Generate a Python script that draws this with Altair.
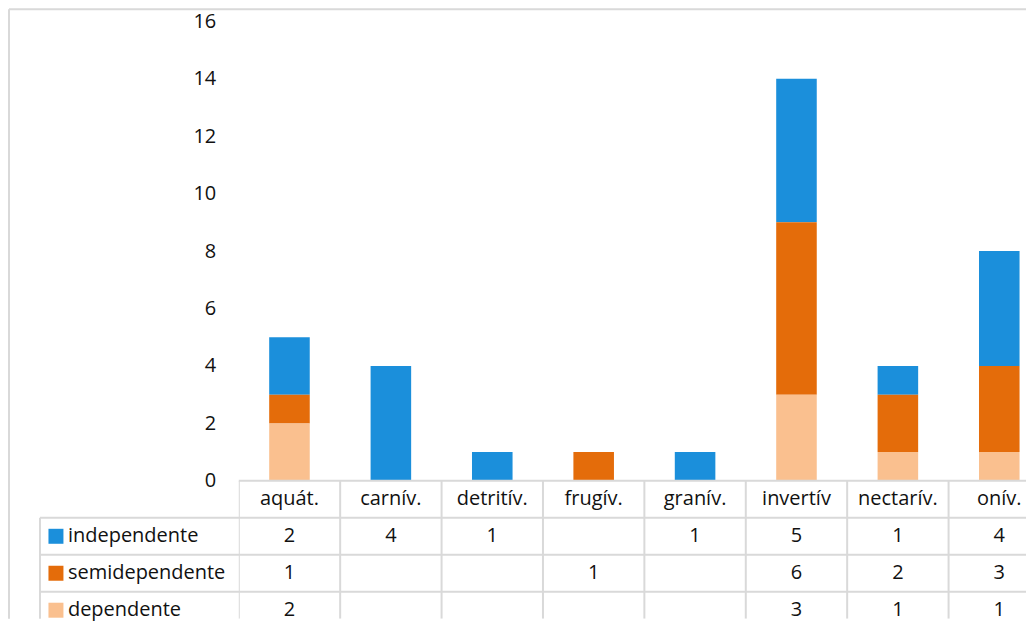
import altair as alt
import pandas as pd

categories = ["aquát.", "carnív.", "detritív.", "frugív.", "granív.", "invertív", "nectarív.", "onív."]
series = ["independente", "semidependente", "dependente"]
independente = [2, 4, 1, None, 1, 5, 1, 4]
semidependente = [1, None, None, 1, None, 6, 2, 3]
dependente = [2, None, None, None, None, 3, 1, 1]
colors = ["#1b8fdb", "#e46c0a", "#fac08f"]
y_ticks = [0, 2, 4, 6, 8, 10, 12, 14, 16]

FONT = "Open Sans"
FS = 20
TXT = "#111111"
GRID = "#d9d9d9"
W_FULL = 812     # full extent of the category axis (chart is cropped on the right)
W = 788          # visible plot width
H = 460
T_FULL = 148     # full height of the data table (cropped at the bottom)
TH = 138         # visible table height

rows = []
for s, vals in zip(series, [independente, semidependente, dependente]):
    for c, v in zip(categories, vals):
        if v is not None:
            rows.append({"cat": c, "row": s, "value": v, "order": 2 - series.index(s)})
df = pd.DataFrame(rows)

color_scale = alt.Scale(domain=series, range=colors)
x_scale = alt.Scale(domain=categories, paddingInner=0.6, paddingOuter=0.3, range=[0, W_FULL])

one = pd.DataFrame({"k": [0]})

frame_left = alt.Chart(one).mark_rule(color=GRID, strokeWidth=2).encode(
    x=alt.value(-230), y=alt.value(-12), y2=alt.value(H + TH)
)
frame_top = alt.Chart(one).mark_rule(color=GRID, strokeWidth=2).encode(
    x=alt.value(-230), x2=alt.value(W), y=alt.value(-12)
)

bars = alt.Chart(df).mark_bar(clip=True).encode(
    x=alt.X("cat:N", scale=x_scale, sort=categories, axis=None),
    y=alt.Y(
        "value:Q",
        stack="zero",
        scale=alt.Scale(domain=[0, 16], nice=False),
        axis=alt.Axis(
            values=y_ticks, title=None, grid=False, domain=False, ticks=False,
            labelFont=FONT, labelFontSize=FS, labelColor=TXT, labelPadding=23,
        ),
    ),
    color=alt.Color("row:N", scale=color_scale, legend=None),
    order=alt.Order("order:Q"),
)

top = alt.layer(frame_left, frame_top, bars).properties(width=W, height=H)

# ---- data table below the plot ----
row_domain = ["header"] + series
y_scale = alt.Scale(domain=row_domain, paddingInner=0, paddingOuter=0, range=[0, T_FULL])
tx_scale = alt.Scale(domain=categories, paddingInner=0, paddingOuter=0, range=[0, W_FULL])

cat_df = pd.DataFrame({"cat": categories, "row": ["header"] * len(categories)})
ser_df = pd.DataFrame({"row": series})

X = alt.X("cat:N", scale=tx_scale, sort=categories, axis=None)
Y = alt.Y("row:N", scale=y_scale, sort=row_domain, axis=None)

header_text = alt.Chart(cat_df).mark_text(font=FONT, fontSize=FS, color=TXT, clip=True).encode(
    x=X, y=Y, text="cat:N"
)
value_text = alt.Chart(df).mark_text(font=FONT, fontSize=FS, color=TXT, clip=True).encode(
    x=X, y=Y, text="value:Q"
)
legend_text = alt.Chart(ser_df).mark_text(font=FONT, fontSize=FS, color=TXT, align="left").encode(
    x=alt.value(-171), y=Y, text="row:N"
)
legend_sq = alt.Chart(ser_df).mark_square(size=225, opacity=1).encode(
    x=alt.value(-183), y=Y, color=alt.Color("row:N", scale=color_scale, legend=None)
)

vlines = alt.Chart(cat_df).mark_rule(color=GRID, strokeWidth=2, clip=True).encode(
    x=alt.X("cat:N", scale=tx_scale, sort=categories, axis=None, bandPosition=0),
    y=alt.value(0), y2=alt.value(TH),
)
legend_vline = alt.Chart(pd.DataFrame({"row": [series[0]]})).mark_rule(color=GRID, strokeWidth=2).encode(
    x=alt.value(-199),
    y=alt.Y("row:N", scale=y_scale, sort=row_domain, axis=None, bandPosition=0),
    y2=alt.value(TH),
)
hlines = alt.Chart(ser_df).mark_rule(color=GRID, strokeWidth=2).encode(
    x=alt.value(-199), x2=alt.value(W),
    y=alt.Y("row:N", scale=y_scale, sort=row_domain, axis=None, bandPosition=0),
)
header_top = alt.Chart(one).mark_rule(color=GRID, strokeWidth=2).encode(
    x=alt.value(0), x2=alt.value(W), y=alt.value(0)
)

table = alt.layer(
    vlines, legend_vline, hlines, header_top,
    header_text, value_text, legend_sq, legend_text,
).properties(width=W, height=TH)

chart = (
    alt.vconcat(top, table, spacing=0, bounds="flush")
    .properties(padding=0, background="white")
    .configure_view(stroke=None)
)

chart.save("out.html", embed_options={"renderer": "svg", "actions": False})
